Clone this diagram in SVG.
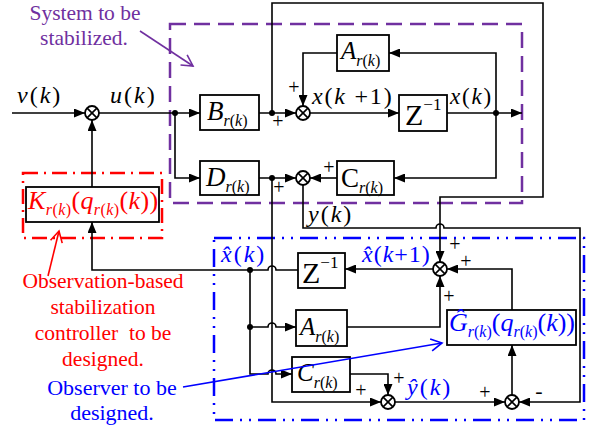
<svg xmlns="http://www.w3.org/2000/svg" width="590" height="430" viewBox="0 0 590 430">
<style>
.box{fill:#fff;stroke:#000;stroke-width:1.8;}
.ln{fill:none;stroke:#000;stroke-width:1.6;}
.arr{marker-end:url(#ah);}
.dot{fill:#000;}
</style>
<defs>
<marker id="ah" markerUnits="userSpaceOnUse" markerWidth="11" markerHeight="9" refX="11" refY="4.5" orient="auto"><path d="M0,0 L11,4.5 L0,9 z" fill="#000"/></marker>
<marker id="opu" markerUnits="userSpaceOnUse" markerWidth="14" markerHeight="14" refX="12" refY="7" orient="auto"><path d="M1,1 L12,7 L1,13" fill="none" stroke="#7030A0" stroke-width="1.6"/></marker>
<marker id="ord" markerUnits="userSpaceOnUse" markerWidth="14" markerHeight="14" refX="12" refY="7" orient="auto"><path d="M1,1 L12,7 L1,13" fill="none" stroke="#FF0000" stroke-width="1.6"/></marker>
<marker id="obu" markerUnits="userSpaceOnUse" markerWidth="14" markerHeight="14" refX="12" refY="7" orient="auto"><path d="M1,1 L12,7 L1,13" fill="none" stroke="#0000FF" stroke-width="1.6"/></marker>
<g id="sumsym"><circle cx="0" cy="0" r="7" fill="#fff" stroke="#000" stroke-width="1.8"/><path d="M-4.9,-4.9 L4.9,4.9 M-4.9,4.9 L4.9,-4.9" stroke="#000" stroke-width="1.6"/></g>
</defs>

<!-- region frames -->
<g id="frames">
<rect id="sysframe" x="170" y="24" width="352" height="179" fill="none" stroke="#7030A0" stroke-width="2.5" stroke-dasharray="16 8"/>
<rect id="ctrlframe" x="23" y="173" width="139" height="65" fill="none" stroke="#FF0000" stroke-width="2.5" stroke-dasharray="15 6 2 6"/>
<rect id="obsframe" x="214" y="238" width="370" height="182" fill="none" stroke="#0000FF" stroke-width="2.5" stroke-dasharray="18 7 2 7 2 7"/>
</g>

<!-- connectors -->
<g id="connectors">
<path class="ln arr" d="M12,113 H85"/>
<path class="ln arr" d="M99,113 H200"/>
<path class="ln arr" d="M175,113 V178 H200"/>
<path class="ln arr" d="M259,113 H296"/>
<path class="ln arr" d="M272,113 V3 H543 V197 H440 V262"/>
<path class="ln arr" d="M496,113 V53 H389"/>
<path class="ln arr" d="M337,53 H303 V106"/>
<path class="ln arr" d="M310,113 H399"/>
<path class="ln arr" d="M447,113 H522"/>
<path class="ln arr" d="M496,113 V178 H394"/>
<path class="ln arr" d="M337,178 H310"/>
<path class="ln arr" d="M259,178 H296"/>
<path class="ln arr" d="M303,185 V228 H436 A4,4 0 0 1 444,228 H580 V402 H519"/>
<path class="ln arr" d="M272,178 V402 H381"/>
<path class="ln arr" d="M298,270 H276 A4,4 0 0 0 268,270 H92 V222"/>
<path class="ln arr" d="M92,187 V120"/>
<path class="ln arr" d="M433,269 H345"/>
<path class="ln arr" d="M250,270 V374 H268 A4,4 0 0 1 276,374 H292"/>
<path class="ln arr" d="M250,327 H268 A4,4 0 0 1 276,327 H296"/>
<path class="ln arr" d="M347,327 H440 V276"/>
<path class="ln arr" d="M512,310 V269 H447"/>
<path class="ln arr" d="M512,395 V345"/>
<path class="ln arr" d="M350,374 H388 V395"/>
<path class="ln arr" d="M395,402 H505"/>
<circle class="dot" cx="175" cy="113" r="3"/>
<circle class="dot" cx="272" cy="113" r="3"/>
<circle class="dot" cx="272" cy="178" r="3"/>
<circle class="dot" cx="496" cy="113" r="3"/>
<circle class="dot" cx="250" cy="270" r="3"/>
<circle class="dot" cx="250" cy="327" r="3"/>
</g>

<!-- summing junctions -->
<g id="s_in"><use href="#sumsym" x="92" y="113"/></g>
<g id="s_x"><use href="#sumsym" x="303" y="113"/></g>
<g id="s_y"><use href="#sumsym" x="303" y="178"/></g>
<g id="s_xh"><use href="#sumsym" x="440" y="269"/></g>
<g id="s_yh"><use href="#sumsym" x="388" y="402"/></g>
<g id="s_e"><use href="#sumsym" x="512" y="402"/></g>

<!-- signs -->
<g id="signs" font-family="Liberation Serif" font-size="20" text-anchor="middle" fill="#000">
<text font-family="Liberation Serif" x="278" y="128">+</text>
<text font-family="Liberation Serif" x="294" y="94">+</text>
<text font-family="Liberation Serif" x="279" y="194">+</text>
<text font-family="Liberation Serif" x="329" y="174">+</text>
<text font-family="Liberation Serif" x="455" y="251">+</text>
<text font-family="Liberation Serif" x="466" y="268">+</text>
<text font-family="Liberation Serif" x="449" y="303">+</text>
<text font-family="Liberation Serif" x="361" y="397">+</text>
<text font-family="Liberation Serif" x="399" y="385">+</text>
<text font-family="Liberation Serif" x="485" y="399">+</text>
<text font-family="Liberation Serif" x="539" y="398" font-size="22">-</text>
</g>

<!-- blocks -->
<g id="B">
<rect class="box" x="200" y="95" width="59" height="35"/>
<text font-family="Liberation Serif" font-size="27" x="207" y="120"><tspan font-style="italic">B</tspan><tspan font-size="16" dy="6"><tspan font-style="italic">r</tspan>(<tspan font-style="italic">k</tspan>)</tspan></text>
</g>
<g id="D">
<rect class="box" x="200" y="161" width="59" height="34"/>
<text font-family="Liberation Serif" font-size="27" x="206" y="186"><tspan font-style="italic">D</tspan><tspan font-size="16" dy="6"><tspan font-style="italic">r</tspan>(<tspan font-style="italic">k</tspan>)</tspan></text>
</g>
<g id="A">
<rect class="box" x="337" y="35" width="52" height="36"/>
<text font-family="Liberation Serif" font-size="25" x="341" y="59"><tspan font-style="italic">A</tspan><tspan font-size="16" dy="7"><tspan font-style="italic">r</tspan>(<tspan font-style="italic">k</tspan>)</tspan></text>
</g>
<g id="Z">
<rect class="box" x="399" y="95" width="48" height="36"/>
<text font-family="Liberation Serif" font-size="30" x="405" y="125">Z<tspan font-size="17" dy="-15">−1</tspan></text>
</g>
<g id="C">
<rect class="box" x="337" y="161" width="57" height="34"/>
<text font-family="Liberation Serif" font-size="27" x="341" y="187">C<tspan font-size="16" dy="6"><tspan font-style="italic">r</tspan>(<tspan font-style="italic">k</tspan>)</tspan></text>
</g>
<g id="K">
<rect class="box" x="26" y="187" width="133" height="35"/>
<text font-family="Liberation Serif" fill="#FF0000" font-size="26" letter-spacing="0.4" x="28" y="209"><tspan font-style="italic">K</tspan><tspan font-size="16" dy="6"><tspan font-style="italic">r</tspan>(<tspan font-style="italic">k</tspan>)</tspan><tspan dy="-6">(<tspan font-style="italic">q</tspan></tspan><tspan font-size="16" dy="6"><tspan font-style="italic">r</tspan>(<tspan font-style="italic">k</tspan>)</tspan><tspan dy="-6">(<tspan font-style="italic">k</tspan>))</tspan></text>
</g>
<g id="Zo">
<rect class="box" x="298" y="253" width="47" height="35"/>
<text font-family="Liberation Serif" font-size="30" x="302" y="283">Z<tspan font-size="17" dy="-15">−1</tspan></text>
</g>
<g id="Ao">
<rect class="box" x="296" y="310" width="51" height="36"/>
<text font-family="Liberation Serif" font-size="25" x="300" y="335"><tspan font-style="italic">A</tspan><tspan font-size="16" dy="7"><tspan font-style="italic">r</tspan>(<tspan font-style="italic">k</tspan>)</tspan></text>
</g>
<g id="Co">
<rect class="box" x="292" y="357" width="58" height="35"/>
<text font-family="Liberation Serif" font-size="25" x="297" y="381"><tspan font-style="italic">C</tspan><tspan font-size="16" dy="7"><tspan font-style="italic">r</tspan>(<tspan font-style="italic">k</tspan>)</tspan></text>
</g>
<g id="G">
<rect class="box" x="447" y="310" width="129" height="35"/>
<text font-family="Liberation Serif" fill="#0000FF" font-size="26" x="449" y="331"><tspan font-style="italic">Ĝ</tspan><tspan font-size="16" dy="6"><tspan font-style="italic">r</tspan>(<tspan font-style="italic">k</tspan>)</tspan><tspan dy="-6">(<tspan font-style="italic">q</tspan></tspan><tspan font-size="16" dy="6"><tspan font-style="italic">r</tspan>(<tspan font-style="italic">k</tspan>)</tspan><tspan dy="-6">(<tspan font-style="italic">k</tspan>))</tspan></text>
</g>

<!-- signal labels -->
<g id="labels">
<text font-family="Liberation Serif" font-size="24" letter-spacing="2" x="17" y="103"><tspan font-style="italic">v</tspan>(<tspan font-style="italic">k</tspan>)</text>
<text font-family="Liberation Serif" font-size="24" letter-spacing="2" x="110" y="103"><tspan font-style="italic">u</tspan>(<tspan font-style="italic">k</tspan>)</text>
<text font-family="Liberation Serif" font-size="24" letter-spacing="1.8" x="312" y="104"><tspan font-style="italic">x</tspan>(<tspan font-style="italic">k</tspan> +1)</text>
<text font-family="Liberation Serif" font-size="23" letter-spacing="1.8" x="450" y="104"><tspan font-style="italic">x</tspan>(<tspan font-style="italic">k</tspan>)</text>
<text font-family="Liberation Serif" font-size="24" letter-spacing="2" x="308" y="222"><tspan font-style="italic">y</tspan>(<tspan font-style="italic">k</tspan>)</text>
<text font-family="Liberation Serif" font-size="24" letter-spacing="2" fill="#0000FF" x="221" y="262"><tspan font-style="italic">x̂</tspan>(<tspan font-style="italic">k</tspan>)</text>
<text font-family="Liberation Serif" font-size="24" letter-spacing="1" fill="#0000FF" x="362" y="262"><tspan font-style="italic">x̂</tspan>(<tspan font-style="italic">k</tspan>+1)</text>
<text font-family="Liberation Serif" font-size="24" letter-spacing="2" fill="#0000FF" x="407" y="395"><tspan font-style="italic">ŷ</tspan>(<tspan font-style="italic">k</tspan>)</text>
</g>

<!-- annotations -->
<g id="ann_sys">
<text font-family="Liberation Serif" font-size="21.5" fill="#7030A0" text-anchor="middle" x="85" y="20">System to be</text>
<text font-family="Liberation Serif" font-size="21.5" fill="#7030A0" text-anchor="middle" x="84" y="45">stabilized.</text>
<path d="M140,31 L193,66" fill="none" stroke="#7030A0" stroke-width="1.6" marker-end="url(#opu)"/>
</g>
<g id="ann_ctrl">
<text font-family="Liberation Serif" font-size="21.5" fill="#FF0000" text-anchor="middle" x="103" y="288">Observation-based</text>
<text font-family="Liberation Serif" font-size="21.5" fill="#FF0000" text-anchor="middle" x="103" y="314">stabilization</text>
<text font-family="Liberation Serif" font-size="21.5" fill="#FF0000" text-anchor="middle" x="103" y="340" xml:space="preserve">controller  to be</text>
<text font-family="Liberation Serif" font-size="21.5" fill="#FF0000" text-anchor="middle" x="103" y="366">designed.</text>
<path d="M48,276 L59,231" fill="none" stroke="#FF0000" stroke-width="1.6" marker-end="url(#ord)"/>
</g>
<g id="ann_obs">
<text font-family="Liberation Serif" font-size="22" fill="#0000FF" text-anchor="middle" x="112" y="395">Observer to be</text>
<text font-family="Liberation Serif" font-size="22" fill="#0000FF" text-anchor="middle" x="112" y="420">designed.</text>
<path d="M183,387 L442,343" fill="none" stroke="#0000FF" stroke-width="1.6" marker-end="url(#obu)"/>
</g>
</svg>
